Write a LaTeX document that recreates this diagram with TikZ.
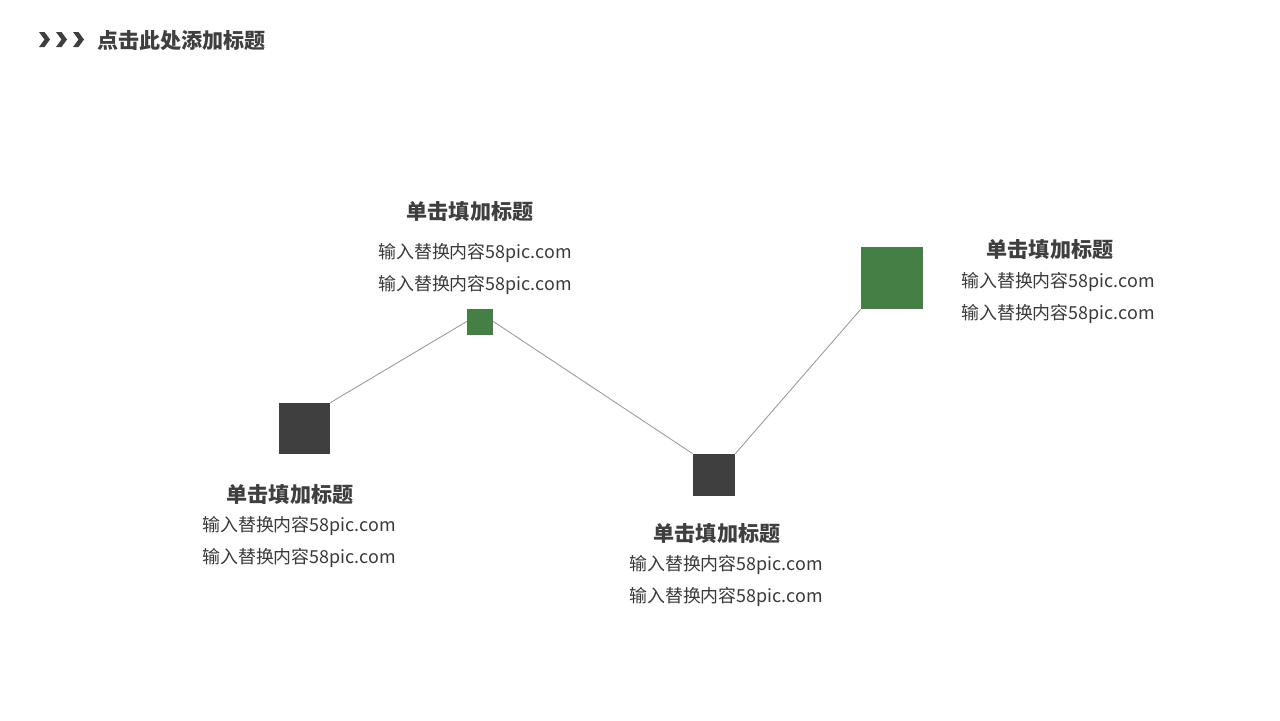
\documentclass[tikz,border=0pt]{standalone}
\usepackage{fontspec}
\setmainfont{Noto Sans CJK SC}
\usepackage{xcolor}
\usepackage{tikz}
\usetikzlibrary{shapes.geometric, arrows}
\definecolor{darkbox}{HTML}{3F3F3F}
\definecolor{greenbox}{HTML}{467F45}
\definecolor{linegray}{HTML}{9A9A9A}
\tikzstyle{darksq} = [rectangle, inner sep=0pt, draw=none, fill=darkbox]
\tikzstyle{greensq} = [rectangle, inner sep=0pt, draw=none, fill=greenbox]
\tikzstyle{heading} = [font=\fontsize{12}{14}\selectfont\bfseries, text=darkbox, inner sep=0pt]
\tikzstyle{bodytext} = [font=\fontsize{10.2}{18}\selectfont, text=darkbox!90!black, align=left, inner sep=0pt]
\tikzstyle{link} = [draw=linegray, line width=0.5pt]
\tikzstyle{chevron} = [fill=darkbox, draw=none]

\begin{document}
\begin{tikzpicture}[x=0.02cm, y=-0.02cm]
  \useasboundingbox (0,0) rectangle (1280,720);
  % header
  \foreach \cx [count=\i] in {39,56,73}
    \fill[chevron] (\cx,32) -- (\cx+5.5,32) -- (\cx+11,39.5) -- (\cx+5.5,47) -- (\cx,47) -- (\cx+5.5,39.5) -- cycle;
  \node (header) [heading, anchor=west] at (97,41) {点击此处添加标题};
  % squares
  \node (sqA) [darksq, minimum size=1.02cm] at (304.5,428.5) {};
  \node (sqB) [greensq, minimum size=0.52cm] at (480,321.5) {};
  \node (sqC) [darksq, minimum size=0.84cm] at (714,475) {};
  \node (sqD) [greensq, minimum size=1.24cm] at (892,278) {};
  % labels
  \node (ttlA) [heading] at (290,495) {单击填加标题};
  \node (txtA) [bodytext, below of=ttlA, yshift=0.06cm, xshift=0.18cm]{输入替换内容58pic.com\\输入替换内容58pic.com};
  \node (ttlB) [heading] at (470,212) {单击填加标题};
  \node (txtB) [bodytext, below of=ttlB, yshift=-0.14cm, xshift=0.1cm]{输入替换内容58pic.com\\输入替换内容58pic.com};
  \node (ttlC) [heading] at (717,534) {单击填加标题};
  \node (txtC) [bodytext, below of=ttlC, yshift=0.06cm, xshift=0.18cm]{输入替换内容58pic.com\\输入替换内容58pic.com};
  \node (ttlD) [heading] at (1050,250) {单击填加标题};
  \node (txtD) [bodytext, below of=ttlD, yshift=0.04cm, xshift=0.16cm]{输入替换内容58pic.com\\输入替换内容58pic.com};
  % connectors
  \draw[link](sqA.north east) -- (sqB.west);
  \draw[link](sqB.east) -- (sqC.north west);
  \draw[link](sqC.north east) -- (sqD.south west);
\end{tikzpicture}
\end{document}
